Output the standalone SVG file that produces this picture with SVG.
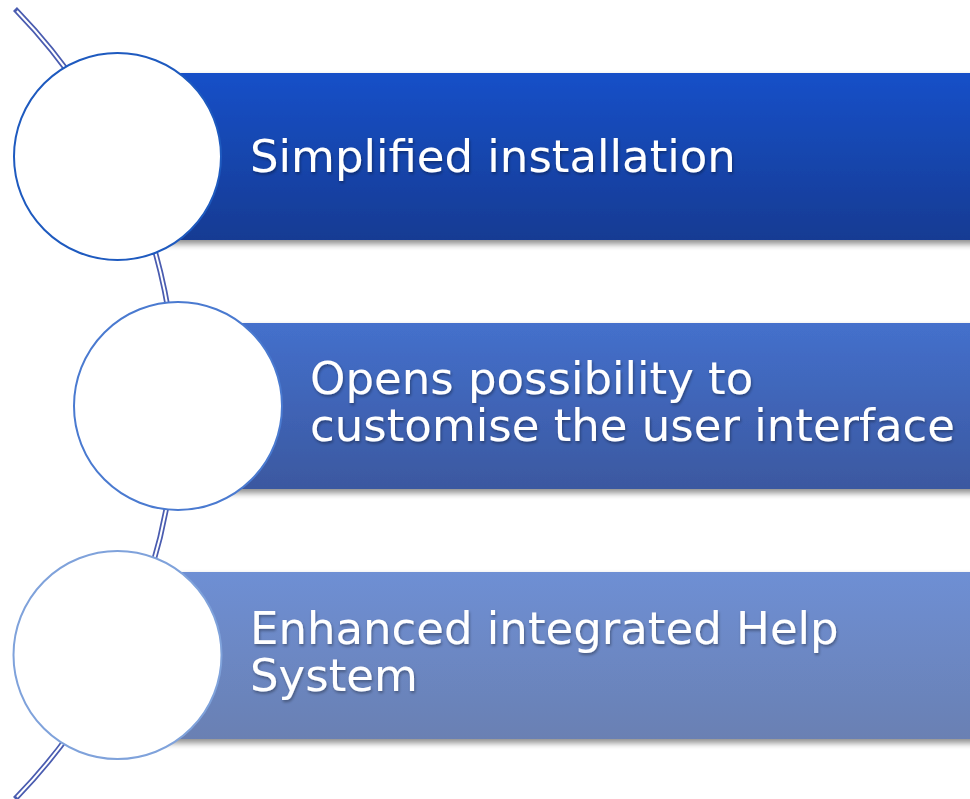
<svg xmlns="http://www.w3.org/2000/svg" width="970" height="799" viewBox="0 0 970 799">
<defs>
<linearGradient id="g1" x1="0" y1="0" x2="0" y2="1"><stop offset="0" stop-color="#1750c8"/><stop offset="1" stop-color="#153b93"/></linearGradient>
<linearGradient id="g2" x1="0" y1="0" x2="0" y2="1"><stop offset="0" stop-color="#4470cc"/><stop offset="1" stop-color="#3b58a0"/></linearGradient>
<linearGradient id="g3" x1="0" y1="0" x2="0" y2="1"><stop offset="0" stop-color="#6e8fd4"/><stop offset="1" stop-color="#6a80b3"/></linearGradient>
<filter id="sh" x="-5%" y="-10%" width="110%" height="130%"><feGaussianBlur in="SourceAlpha" stdDeviation="3"/><feOffset dy="4"/><feComponentTransfer><feFuncA type="linear" slope="0.45"/></feComponentTransfer><feMerge><feMergeNode/><feMergeNode in="SourceGraphic"/></feMerge></filter>
<filter id="ts" x="-5%" y="-20%" width="110%" height="140%"><feGaussianBlur in="SourceAlpha" stdDeviation="1.5"/><feOffset dx="1" dy="2"/><feComponentTransfer><feFuncA type="linear" slope="0.35"/></feComponentTransfer><feMerge><feMergeNode/><feMergeNode in="SourceGraphic"/></feMerge></filter>
</defs>
<style>
.t{font-family:"DejaVu Sans","Verdana",sans-serif;font-size:45px;fill:#ffffff;}
.c{fill:#ffffff;stroke-width:2;}
</style>
<g id="connectors">
<path d="M 16.9 11 A 565 565 0 0 1 16.9 797" fill="none" stroke="#4a5cb0" stroke-width="5.5" stroke-linecap="square"/>
<path d="M 16.9 11 A 565 565 0 0 1 16.9 797" fill="none" stroke="#ffffff" stroke-width="2" stroke-linecap="butt"/>
</g>
<g id="node1">
<rect x="118" y="73" width="860" height="167" fill="url(#g1)" filter="url(#sh)"/>
<circle class="c" cx="117.5" cy="156.5" r="103.5" stroke="#1e5abf"/>
<text class="t" x="250" y="172" filter="url(#ts)">Simplified installation</text>
</g>
<g id="node2">
<rect x="178" y="323" width="800" height="166" fill="url(#g2)" filter="url(#sh)"/>
<circle class="c" cx="178" cy="406" r="104" stroke="#4a7ad0"/>
<text class="t" filter="url(#ts)"><tspan x="310" y="394">Opens possibility to</tspan><tspan x="310" y="441">customise the user interface</tspan></text>
</g>
<g id="node3">
<rect x="118" y="572" width="860" height="167" fill="url(#g3)" filter="url(#sh)"/>
<circle class="c" cx="117.5" cy="655" r="104" stroke="#7fa2db"/>
<text class="t" filter="url(#ts)"><tspan x="250" y="644">Enhanced integrated Help</tspan><tspan x="250" y="691">System</tspan></text>
</g>
</svg>
